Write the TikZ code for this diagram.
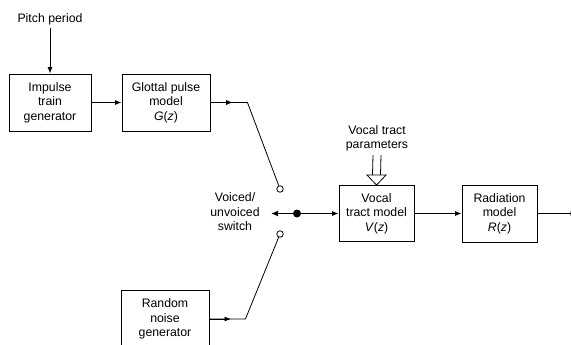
\documentclass[tikz,border=0pt]{standalone}
\usepackage{fontspec}
\setmainfont{Liberation Sans}
\usetikzlibrary{arrows.meta,calc}

\tikzset{
  block/.style={draw, line width=0.9pt, minimum height=57pt, align=center, inner sep=2pt},
  flow/.style={-{Latex[length=6.5pt,width=5pt]}, line width=0.8pt},
  port/.style={circle, draw, fill=white, inner sep=0pt, minimum size=6.5pt, line width=0.8pt},
}

\begin{document}
\begin{tikzpicture}[x=1pt, y=-1pt, font=\fontsize{12.3}{14.5}\selectfont]
  \clip (0,0) rectangle (571,345);
  % source blocks
  \node (pitch) at (50,19) {Pitch period};
  \node[block, minimum width=82pt] (impulse) at (50,102.5) {Impulse\\train\\generator};
  \node[block, minimum width=88pt] (glottal) at (166,102.5) {Glottal pulse\\model\\\textit{G}(\textit{z})};
  \node[block, minimum width=88pt, minimum height=58pt] (noise) at (165,319) {Random\\noise\\generator};
  % switch
  \node[port] (vtop) at (280,189) {};
  \node[port] (vbot) at (280,234) {};
  \node[circle, fill, inner sep=0pt, minimum size=8pt] (pivot) at (297,213.5) {};
  \node[align=center] (swlabel) at (235,212) {Voiced/\\unvoiced\\switch};
  \coordinate (armtip) at (271,213.5);
  % filter blocks
  \node[align=center] (params) at (377,138.5) {Vocal tract\\parameters};
  \node[block, minimum width=75pt, minimum height=56pt] (vocal) at (376.5,213.5) {Vocal\\tract model\\\textit{V}(\textit{z})};
  \node[block, minimum width=75pt] (radiation) at (499.5,213.5) {Radiation\\model\\\textit{R}(\textit{z})};
  \coordinate (out) at (577,213.5);
  \coordinate (gbend) at ($(glottal.east)+(37,0)$);
  \coordinate (nbend) at ($(noise.east)+(36,0)$);

  \draw[flow] (pitch.south) -- (impulse.north);
  \draw[flow] (impulse.east) -- (glottal.west);
  \draw[flow] (glottal.east) -- ($(glottal.east)!0.6!(gbend)$);
  \draw[line width=0.8pt] (glottal.east) -- (gbend) -- (vtop);
  \draw[flow] (noise.east) -- ($(noise.east)!0.6!(nbend)$);
  \draw[line width=0.8pt] (noise.east) -- (nbend) -- (vbot);
  \draw[-{Latex[length=7pt,width=6pt]}, line width=1.6pt] (pivot) -- (armtip);
  \draw[flow] (pivot) -- (vocal.west);
  % hollow parameter arrow
  \draw[line width=0.8pt] ($(params.south)+(-4,0)$) -- ($(vocal.north)+(-4,-10)$)
    ($(params.south)+(4,0)$) -- ($(vocal.north)+(4,-10)$);
  \draw[line width=0.8pt, fill=white] ($(vocal.north)+(-9.5,-10)$) -- (vocal.north)
    -- ($(vocal.north)+(9.5,-10)$) -- cycle;
  \draw[flow] (vocal.east) -- (radiation.west);
  \draw[flow] (radiation.east) -- (out);
\end{tikzpicture}
\end{document}
